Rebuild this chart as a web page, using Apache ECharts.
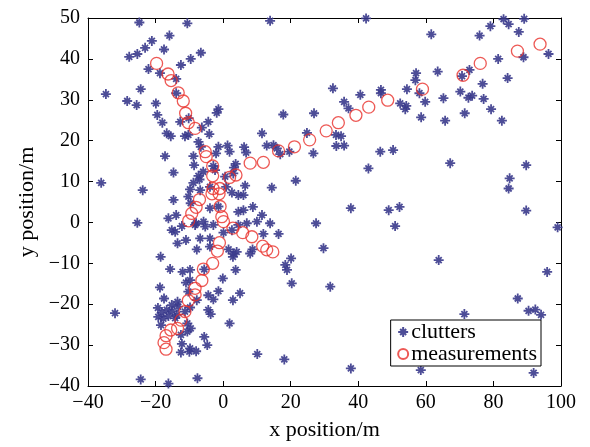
<!DOCTYPE html>
<html><head><meta charset="utf-8">
<script src="https://cdn.jsdelivr.net/npm/echarts@6/dist/echarts.min.js"></script>
<style>html,body{margin:0;padding:0;background:#fff}#c{width:590px;height:447px}</style>
</head><body><div id="c"></div>
<script>
var xTicks = [-40, -20, 0, 20, 40, 60, 80, 100];
var yTicks = [-40, -30, -20, -10, 0, 10, 20, 30, 40, 50];
var clutters = [
[-24.8,48.9],[-10.6,48.7],[13.9,49.3],[-15.9,45.7],[-21.1,44.4],[-23.1,42.7],[-17.5,42.3],[-25.4,41.2],[-27.8,40.5],[-6.6,41.5],[-9.6,40.0],[-12.5,38.5],[-22.1,37.5],[-18.7,36.5],[-13.9,35.1],[-24.4,32.6],[-13.9,31.6],[-34.7,31.4],[-28.4,29.7],[-25.6,28.7],[-19.9,29.1],[-19.5,26.3],[-18.0,24.4],[-12.7,24.6],[-10.2,25.5],[-1.4,27.7],[-1.9,26.8],[-4.4,24.6],[-6.3,23.2],[-16.7,21.8],[-15.5,21.1],[-11.3,21.1],[-10.3,21.4],[-4.1,21.6],[-7.3,19.7],[1.3,18.8],[-1.4,18.5],[-6.6,18.5],[6.2,18.4],[6.8,17.1],[1.9,17.3],[-2.1,16.9],[11.5,21.8],[12.9,18.8],[14.9,18.9],[17.8,26.4],[26.9,26.7],[24.8,21.9],[19.6,17.3],[26.7,16.9],[-17.2,16.2],[-8.8,16.2],[-8.6,14.0],[3.7,14.3],[3.2,13.4],[-2.9,13.8],[-5.9,12.4],[-7.3,11.4],[-14.7,12.2],[-8.8,9.7],[-7.0,10.5],[0.6,11.2],[3.0,12.0],[6.5,9.0],[14.4,8.5],[21.5,10.2],[-36.1,9.7],[-23.8,7.9],[-9.8,8.1],[-6.8,7.9],[0.9,8.7],[2.6,7.3],[4.5,6.7],[6.0,6.7],[-10.3,6.3],[-14.7,5.5],[-3.9,8.7],[15.9,18.1],[16.9,16.7],[-2.4,12.8],
[42.3,49.9],[61.6,46.0],[75.9,45.7],[79.1,48.0],[83.0,49.7],[84.5,48.5],[89.1,49.8],[87.5,46.6],[81.4,40.0],[88.9,40.4],[96.3,41.2],[32.5,32.8],[40.6,31.2],[46.7,32.4],[46.7,31.6],[54.4,32.6],[57.1,36.5],[56.9,34.8],[63.5,36.9],[72.9,37.3],[70.7,35.8],[76.8,33.9],[84.2,35.3],[70.2,32.0],[72.6,30.5],[73.7,31.0],[77.1,30.2],[65.2,30.4],[58.1,31.6],[59.8,29.5],[52.4,29.1],[54.2,28.5],[53.9,27.7],[35.8,29.5],[37.1,27.9],[58.6,25.7],[65.7,24.9],[71.5,26.7],[79.3,27.7],[82.5,24.9],[33.4,21.4],[34.9,21.1],[33.5,18.7],[35.8,18.8],[46.5,17.3],[50.3,17.7],[43.0,13.2],[67.2,14.5],[89.7,14.0],[84.8,10.8],[84.5,8.3],
[-9.6,4.7],[-3.9,3.5],[6.0,3.0],[4.5,2.6],[8.8,3.8],[11.5,1.8],[13.9,-0.2],[10.0,0.2],[7.0,-0.2],[-25.4,-0.1],[-16.2,1.0],[-13.9,1.8],[-15.2,-1.9],[-12.2,-0.9],[-8.0,-0.2],[-5.8,0.2],[-6.8,-3.9],[-11.0,-4.3],[-13.5,-5.1],[-7.8,-6.6],[-3.9,-5.9],[0.1,-2.5],[1.6,-6.6],[4.0,-7.2],[2.9,-8.4],[8.0,-7.6],[11.9,-2.8],[16.4,-2.8],[27.5,-0.2],[29.7,-6.3],[-18.5,-8.4],[-15.7,-11.4],[-12.0,-12.1],[-9.8,-11.6],[-0.1,-13.7],[3.7,-11.6],[-11.0,-14.7],[-9.8,-14.1],[-18.7,-15.9],[-17.5,-18.6],[-4.4,-17.8],[-1.4,-16.8],[-2.9,-18.8],[2.9,-19.0],[5.0,-17.3],[-13.5,-19.4],[-15.2,-20.2],[-16.7,-21.4],[-18.2,-22.1],[-19.2,-23.1],[-17.7,-23.5],[-16.2,-22.9],[-9.8,-20.8],[-4.4,-21.4],[-3.7,-22.4],[-32.0,-22.2],[-10.6,-24.7],[-9.6,-25.9],[1.9,-24.7],[-12.5,-27.5],[-10.6,-26.7],[-5.6,-28.0],[-4.7,-30.0],[-12.2,-29.7],[-12.5,-31.8],[-10.0,-31.6],[-8.0,-31.5],[10.1,-32.2],[18.1,-33.5],[-24.4,-38.4],[-16.2,-39.4],[-7.6,-38.1],[31.7,-15.7],[20.1,-8.8],[18.4,-10.4],[18.9,-11.6],[20.3,-14.9],[-1.4,3.9],
[-14.2,-2.3],[-8.3,-0.6],[-5.3,-1.0],[-2.9,-0.6],[-3.9,-3.9],[-5.6,-11.5],[-10.3,-16.9],[-7.8,-19.0],[-15.1,-21.7],[-14.2,-23.4],[-19.3,-20.9],[-18.4,-25.1],[-13.3,-20.6],[-11.3,-21.8],[-13.7,-22.6],[-9.8,-30.8],[2.6,-1.9],[4.5,-0.6],[3.0,-7.6],[8.7,-6.6],
[37.8,3.5],[49.0,3.0],[52.2,3.8],[50.9,-0.9],[89.7,2.9],[99.0,-1.2],[63.8,-9.2],[95.9,-12.1],[87.2,-18.6],[90.4,-21.6],[92.4,-21.3],[94.1,-22.6],[71.4,-22.4],[37.8,-35.7],[58.5,-36.1],[91.9,-36.8]
];
var measurements = [
[-19.7,38.9],[-16.3,36.3],[-15.4,34.7],[-13.3,31.7],[-11.8,29.7],[-11.1,26.7],[-10.3,24.4],[-8.3,23.0],[-5.3,17.3],[-5.0,16.1],[-3.1,13.8],[-3.1,11.4],[1.9,11.0],[3.8,11.6],[8.0,14.5],[11.9,14.7],[16.4,17.5],[21.1,18.5],[25.6,20.2],[30.5,22.4],[34.1,24.4],[39.3,26.2],[43.1,28.2],[48.7,29.9],[59.0,32.6],[71.0,36.0],[76.1,38.9],[87.1,41.9],[93.8,43.6],
[-3.0,8.3],[-1.0,8.3],[-3.3,7.0],[-1.2,7.0],[-7.0,5.6],[-8.0,3.7],[-9.3,2.2],[-10.2,0.4],[-0.9,3.9],[-0.4,1.4],[0.1,0.2],[2.9,-1.4],[5.8,-2.5],[8.5,-3.5],[11.7,-5.8],[12.9,-6.7],[14.7,-7.2],[-1.1,-4.95],[-1.7,-7.0],[-3.1,-10.0],[-5.85,-11.4],[-6.3,-14.2],[-8.3,-16.1],[-8.3,-17.7],[-10.3,-19.1],[-11.3,-21.8],[-12.5,-23.9],[-13.5,-25.9],[-15.5,-26.3],[-16.9,-27.7],[-17.5,-29.4],[-16.9,-31.0]
];
var seriesNames = ['clutters', 'measurements'];

var FONT = '"Liberation Serif","Times New Roman",serif';
function fmt(v){ return String(v).replace('-', '\u2212'); }
var tickStyle = {show:true, inside:true, length:5, lineStyle:{color:'#000', width:1}};
var lineStyle = {show:true, onZero:false, lineStyle:{color:'#000', width:1}};
var starPath = 'path://M0,-6L0,6M-6,0L6,0M-3.6,-3.6L3.6,3.6M-3.6,3.6L3.6,-3.6';

var chart = echarts.init(document.getElementById('c'), null, {renderer:'canvas'});
chart.setOption({
  animation:false,
  backgroundColor:'#fff',
  grid:{left:88, right:29, top:18, bottom:61, containLabel:false},
  xAxis:[
    {type:'value', min:-40, max:100, interval:20, position:'bottom',
     axisLine:lineStyle, axisTick:tickStyle, splitLine:{show:false},
     axisLabel:{color:'#000', fontFamily:FONT, fontSize:20, margin:7, formatter:fmt},
     name:'x position/m', nameLocation:'middle', nameGap:33,
     nameTextStyle:{color:'#000', fontFamily:FONT, fontSize:22}},
    {type:'value', min:-40, max:100, interval:20, position:'top',
     axisLine:lineStyle, axisTick:tickStyle, splitLine:{show:false}, axisLabel:{show:false}}
  ],
  yAxis:[
    {type:'value', min:-40, max:50, interval:10, position:'left',
     axisLine:lineStyle, axisTick:tickStyle, splitLine:{show:false},
     axisLabel:{color:'#000', fontFamily:FONT, fontSize:20, margin:8, formatter:fmt},
     name:'y position/m', nameLocation:'middle', nameGap:46,
     nameTextStyle:{color:'#000', fontFamily:FONT, fontSize:22}},
    {type:'value', min:-40, max:50, interval:10, position:'right',
     axisLine:lineStyle, axisTick:tickStyle, splitLine:{show:false}, axisLabel:{show:false}}
  ],
  legend:{
    show:true, orient:'vertical', right:49, bottom:81,
    backgroundColor:'#fff', borderColor:'#000', borderWidth:1, borderRadius:0,
    padding:[1,4,1,5], itemGap:0, itemWidth:12, itemHeight:10,
    textStyle:{color:'#000', fontFamily:FONT, fontSize:22, padding:[0,0,0,-3]},
    data:[{name:seriesNames[0]},{name:seriesNames[1]}]
  },
  series:[
    {name:seriesNames[0], type:'scatter', data:clutters, symbol:starPath, symbolSize:10,
     itemStyle:{color:'none', borderColor:'#3a3a8c', borderWidth:1.8, opacity:0.9}},
    {name:seriesNames[1], type:'scatter', data:measurements, symbol:'circle', symbolSize:12,
     itemStyle:{color:'none', borderColor:'#e8302a', borderWidth:1.3}}
  ]
});
</script></body></html>
